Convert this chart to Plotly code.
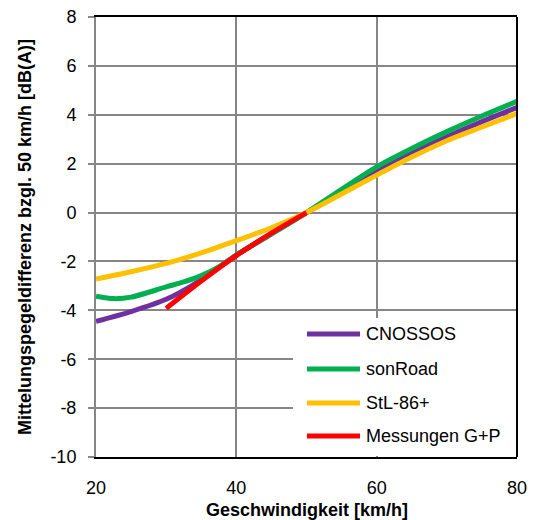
import plotly.graph_objects as go

speeds = [20, 25, 30, 35, 37.5, 40, 45, 50, 55, 60, 65, 70, 75, 80]
cnossos = [-4.45, -4.05, -3.55, -2.75, -2.24, -1.74, -0.86, 0.0, 0.86, 1.7, 2.44, 3.1, 3.72, 4.3]
sonroad_speeds = [20, 22.5, 25, 30, 32.5, 35, 37.5, 40, 45, 50, 55, 60, 65, 70, 75, 80]
sonroad = [-3.42, -3.52, -3.46, -3.04, -2.84, -2.58, -2.22, -1.74, -0.88, 0.0, 0.95, 1.87, 2.62, 3.31, 3.95, 4.55]
stl_speeds = [20, 25, 30, 35, 40, 45, 50, 55, 60, 65, 70, 75, 80]
stl86 = [-2.72, -2.42, -2.08, -1.65, -1.15, -0.62, 0.0, 0.76, 1.53, 2.27, 2.94, 3.5, 4.05]
mess_speeds = [30, 35, 40, 45, 50]
messungen = [-3.92, -2.8, -1.76, -0.84, 0.0]

names = ["CNOSSOS", "sonRoad", "StL-86+", "Messungen G+P"]
colors = ["#7030A0", "#00B050", "#FFC000", "#FF0000"]
xs = [speeds, sonroad_speeds, stl_speeds, mess_speeds]
ys = [cnossos, sonroad, stl86, messungen]

x_ticks = [20, 40, 60, 80]
y_ticks = [8, 6, 4, 2, 0, -2, -4, -6, -8, -10]

FONT = "Liberation Sans, Arial, sans-serif"
GRID = "#868686"

# plot area in pixels (for placing the legend block)
L, R, T, B = 96, 517, 17, 457


def dx(px):
    return (px - L) / (R - L)


def dy(py):
    return (B - py) / (B - T)


fig = go.Figure()
for n, c, x, y in zip(names, colors, xs, ys):
    fig.add_trace(go.Scatter(
        x=x, y=y, name=n, mode="lines",
        line=dict(color=c, width=5, shape="spline", smoothing=0.8),
        showlegend=False,
    ))

shapes = [
    # white legend background box
    dict(type="rect", xref="x domain", yref="y domain", x0=dx(293), x1=dx(516), y0=dy(456), y1=dy(318),
         fillcolor="white", line=dict(width=0), layer="above"),
    # right black border
    dict(type="line", xref="x domain", yref="y domain", x0=1, x1=1, y0=0, y1=1,
         line=dict(color="black", width=2), layer="above"),
]
annotations = [
    dict(text="<b>Geschwindigkeit [km/h]</b>", xref="paper", yref="paper",
         x=dx(307), y=dy(510), xanchor="center", yanchor="middle",
         showarrow=False, font=dict(family=FONT, size=18)),
    dict(text="<b>Mittelungspegeldifferenz bzgl. 50 km/h [dB(A)]</b>", xref="paper", yref="paper",
         x=dx(25), y=0.5, xanchor="center", yanchor="middle", textangle=-90,
         showarrow=False, font=dict(family=FONT, size=18)),
]
legend_rows = [334, 369, 403, 436]
for n, c, py in zip(names, colors, legend_rows):
    shapes.append(dict(type="line", xref="x domain", yref="y domain",
                       x0=dx(307), x1=dx(360), y0=dy(py), y1=dy(py),
                       line=dict(color=c, width=5), layer="above"))
    annotations.append(dict(text=n, xref="x domain", yref="y domain", x=dx(364), y=dy(py),
                            xanchor="left", yanchor="middle", showarrow=False,
                            font=dict(family=FONT, size=18, color="black")))

fig.update_layout(
    width=533, height=520,
    margin=dict(l=L, r=533 - R, t=T, b=520 - B, autoexpand=False),
    paper_bgcolor="white", plot_bgcolor="white",
    font=dict(family=FONT, size=18, color="black"),
    showlegend=False,
    shapes=shapes,
    annotations=annotations,
    xaxis=dict(
        range=[20, 80], tickvals=x_ticks, ticktext=[str(v) for v in x_ticks],
        showgrid=True, gridcolor=GRID, gridwidth=2,
        showline=True, linecolor="black", linewidth=2, mirror=True,
        ticks="", ticklabelstandoff=13, zeroline=False, automargin=False,
        tickfont=dict(family=FONT, size=18),
    ),
    yaxis=dict(
        range=[-10, 8], tickvals=y_ticks, ticktext=[str(v) for v in y_ticks],
        showgrid=True, gridcolor=GRID, gridwidth=2,
        showline=True, linecolor=GRID, linewidth=2, mirror=False,
        ticks="outside", ticklen=6, tickcolor=GRID, tickwidth=2,
        ticklabelstandoff=8, zeroline=False, automargin=False,
        tickfont=dict(family=FONT, size=18),
    ),
)

fig.write_html("out.html")
